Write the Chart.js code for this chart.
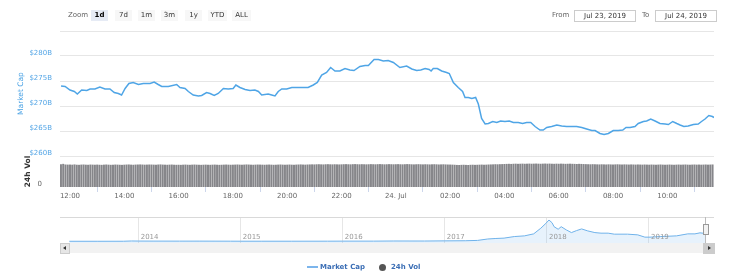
<!DOCTYPE html>
<html><head><meta charset="utf-8">
<script src="https://cdn.jsdelivr.net/npm/chart.js@4/dist/chart.umd.min.js"></script>
<style>
body{margin:0;background:#fff;width:736px;height:274px;overflow:hidden;position:relative;font-family:"DejaVu Sans",sans-serif;font-size:7px;}
canvas{position:absolute;left:0;}
#main{top:0;}
#nav{top:210px;}
.a{position:absolute;white-space:nowrap;line-height:10px;}
.btn{position:absolute;top:10px;height:11px;width:17px;background:#f7f7f7;color:#333;text-align:center;line-height:11px;}
.btn.sel{background:#e6ebf5;font-weight:bold;color:#000;}
.inp{position:absolute;top:10px;height:10px;width:60px;border:1px solid #cccccc;color:#333;text-align:center;line-height:10px;}
</style></head>
<body>
<canvas id="main" width="736" height="205"></canvas>
<canvas id="nav" width="736" height="45"></canvas>

<div class="a" style="left:68px;top:10px;color:#666;">Zoom</div>
<div class="btn sel" style="left:91px;">1d</div>
<div class="btn" style="left:115px;">7d</div>
<div class="btn" style="left:138px;">1m</div>
<div class="btn" style="left:161px;">3m</div>
<div class="btn" style="left:185px;">1y</div>
<div class="btn" style="left:208px;width:19px;">YTD</div>
<div class="btn" style="left:232px;width:19px;">ALL</div>
<div class="a" style="left:552px;top:10px;color:#666;">From</div>
<div class="inp" style="left:574px;">Jul 23, 2019</div>
<div class="a" style="left:642px;top:10px;color:#666;">To</div>
<div class="inp" style="left:655px;">Jul 24, 2019</div>

<!-- navigator decorations -->
<div class="a" style="left:60px;top:217px;width:654px;height:1px;background:#d9d9d9;"></div>
<div class="a" style="left:705px;top:217px;width:1px;height:26px;background:#bbbbbb;"></div>
<div class="a" style="left:703px;top:224px;width:4px;height:9px;background:#f2f2f2;border:1px solid #999;"></div>
<div class="a" style="left:60px;top:243px;width:654px;height:10px;background:#f2f2f2;"></div>
<div class="a" style="left:60px;top:243px;width:8px;height:9px;background:#e6e6e6;border:1px solid #cccccc;"></div>
<div class="a" style="left:63px;top:246px;width:0;height:0;border-top:2px solid transparent;border-bottom:2px solid transparent;border-right:3px solid #333;"></div>
<div class="a" style="left:703px;top:243px;width:10px;height:9px;background:#cccccc;border:1px solid #cccccc;"></div>
<div class="a" style="left:708px;top:246px;width:0;height:0;border-top:2px solid transparent;border-bottom:2px solid transparent;border-left:3px solid #333;"></div>

<!-- legend -->
<div class="a" style="left:307px;top:266px;width:11px;height:2px;background:#7cb5ec;"></div>
<div class="a" style="left:320px;top:262px;color:#3b6eb5;font-weight:bold;">Market Cap</div>
<div class="a" style="left:379px;top:264px;width:7px;height:7px;border-radius:50%;background:#555;"></div>
<div class="a" style="left:391px;top:262px;color:#3b6eb5;font-weight:bold;">24h Vol</div>

<script>
// ---- Market cap (hours since 23 Jul 2019 00:00, billions USD)
const mcHours = [11.67,11.82,12.00,12.16,12.27,12.43,12.62,12.74,12.92,13.10,13.29,13.47,13.63,13.78,13.90,14.03,14.17,14.33,14.52,14.70,14.95,15.10,15.25,15.38,15.62,15.93,16.05,16.24,16.36,16.54,16.73,16.85,17.03,17.16,17.31,17.46,17.65,17.83,18.01,18.11,18.26,18.45,18.63,18.81,18.94,19.06,19.30,19.43,19.55,19.67,19.80,19.98,20.17,20.41,20.59,20.77,20.96,21.11,21.27,21.45,21.60,21.76,21.94,22.13,22.31,22.46,22.68,22.87,22.99,23.20,23.36,23.54,23.72,23.91,24.15,24.40,24.59,24.77,24.92,25.08,25.23,25.30,25.38,25.53,25.69,25.87,25.97,26.12,26.30,26.46,26.55,26.67,26.80,26.94,27.04,27.16,27.29,27.41,27.57,27.72,27.86,28.02,28.18,28.33,28.51,28.67,28.82,28.97,29.13,29.31,29.43,29.56,29.74,29.93,30.11,30.29,30.48,30.66,30.85,31.03,31.22,31.34,31.52,31.67,31.83,32.01,32.19,32.36,32.48,32.63,32.81,32.93,33.12,33.24,33.39,33.55,33.73,33.92,34.04,34.20,34.35,34.47,34.61,34.77,34.96,35.14,35.26,35.39,35.53,35.66,35.72];
const mcValues = [274.0,273.9,273.2,272.9,272.4,273.2,273.1,273.4,273.4,273.8,273.4,273.4,272.7,272.5,272.2,273.5,274.5,274.7,274.3,274.5,274.5,274.8,274.3,273.9,273.9,274.3,273.7,273.5,272.9,272.2,272.0,272.1,272.7,272.5,272.1,272.5,273.5,273.4,273.5,274.2,273.7,273.3,273.1,273.2,272.9,272.2,272.4,272.2,272.0,272.9,273.4,273.4,273.7,273.7,273.7,273.7,274.2,274.7,276.2,276.7,277.7,277.0,277.0,277.5,277.2,277.1,277.9,278.1,278.1,279.3,279.3,279.0,279.1,278.7,277.7,278.0,277.4,277.1,277.2,277.5,277.3,277.0,277.5,277.5,277.0,276.7,276.5,274.7,273.7,272.9,271.7,271.7,271.5,271.7,270.4,267.5,266.4,266.5,266.9,266.7,267.0,266.9,267.0,266.7,266.7,266.5,266.7,266.7,265.9,265.2,265.2,265.7,265.9,266.2,266.0,265.9,265.9,265.9,265.7,265.4,265.1,265.1,264.5,264.3,264.5,265.1,265.1,265.2,265.7,265.7,265.9,266.5,266.9,267.0,267.4,267.0,266.5,266.4,266.3,266.9,266.5,266.2,265.9,266.0,266.3,266.4,266.9,267.4,268.1,267.9,267.7];

// ---- 24h volume, one bar every 5 minutes from 11:40 (billions USD)
const volStartHour = 11 + 40/60;
const volStepHour = 5/60;
const volValues = [
54.5,55.2,53.6,53.4,
53.5,53.2,53.8,53.1,52.9,53.4,53.6,53.2,53.0,53.5,53.3,53.1,
53.4,53.0,52.8,53.3,53.6,53.2,52.9,53.1,53.5,53.3,53.0,52.8,
53.2,53.5,53.7,53.3,53.0,53.4,53.6,53.8,53.5,53.2,53.4,53.6,
53.5,53.3,53.1,53.6,53.8,53.4,53.2,53.0,53.3,53.5,53.1,52.9,
53.0,52.8,53.2,53.4,53.1,52.9,53.3,53.5,53.2,53.0,52.8,53.1,
53.3,53.0,52.9,53.2,53.4,53.1,52.8,53.0,53.3,53.5,53.2,53.0,
53.2,53.4,53.6,53.3,53.1,53.4,53.7,53.5,53.2,53.0,53.3,53.5,
53.4,53.2,53.0,53.3,53.5,53.2,52.9,53.1,53.4,53.6,53.3,53.1,
53.3,53.5,53.2,53.0,53.4,53.6,53.8,53.5,53.3,53.6,53.8,54.0,
53.8,54.1,54.3,54.0,53.8,54.2,54.4,54.1,53.9,54.2,54.0,53.8,
54.0,54.3,54.5,54.2,54.0,54.4,54.6,54.3,54.1,54.4,54.2,54.0,
54.2,54.5,54.3,54.1,54.4,54.6,54.3,54.0,54.2,54.5,54.3,54.1,
54.3,54.5,54.2,54.0,54.3,54.6,54.4,54.1,53.9,54.2,54.4,54.1,
53.9,54.2,54.0,53.8,54.1,54.3,54.0,53.7,53.9,54.1,53.8,53.6,
53.5,53.3,53.0,52.6,52.4,52.8,53.0,52.7,52.5,52.9,53.1,52.8,
53.0,53.2,53.4,53.1,53.3,53.6,53.8,54.0,54.3,54.1,54.4,54.6,
54.8,55.1,55.3,55.0,55.4,55.6,55.3,55.5,55.7,55.4,55.6,55.8,
55.5,55.7,55.9,55.6,55.4,55.7,55.9,55.6,55.8,55.5,55.3,55.6,
55.4,55.7,55.5,55.2,55.4,55.6,55.3,55.1,54.9,55.2,55.0,54.7,
54.5,54.3,54.1,54.4,54.2,54.0,53.8,54.1,53.9,53.7,54.0,53.8,
53.6,53.9,54.1,53.8,53.6,53.9,53.7,53.5,53.8,53.6,53.4,53.7,
53.5,53.3,53.6,53.4,53.2,53.5,53.3,53.1,53.4,53.6,53.3,53.1,
53.3,53.5,53.2,53.0,53.3,53.5,53.2,53.4,53.6,53.3,53.1,53.4,
53.6,53.3,53.5,53.2,53.4,53.6,53.3,53.5,53.7];

// ---- Axis ticks
const xTickValues = [12,14,16,18,20,22,24,26,28,30,32,34];
const xTickLabels = ['12:00','14:00','16:00','18:00','20:00','22:00','24. Jul','02:00','04:00','06:00','08:00','10:00'];
const priceTickValues = [260,265,270,275,280,285];
const priceTickLabels = ['$260B','$265B','$270B','$275B','$280B',''];
const volTickValues = [0];
const volTickLabels = ['0'];

// ---- Navigator: whole history (decimal year, billions USD)
const navYears = [2013.32,2013.60,2013.85,2013.93,2014.00,2014.15,2014.40,2014.60,2014.90,2015.00,2015.20,2015.50,2015.85,2016.00,2016.30,2016.50,2016.80,2017.00,2017.20,2017.32,2017.42,2017.50,2017.58,2017.68,2017.78,2017.87,2017.94,2017.99,2018.02,2018.05,2018.07,2018.11,2018.14,2018.19,2018.24,2018.29,2018.34,2018.40,2018.47,2018.53,2018.60,2018.66,2018.79,2018.89,2018.96,2019.01,2019.11,2019.27,2019.38,2019.45,2019.50,2019.56];
const navValues = [1.5,1.2,2.5,13,10,8,7,7.5,5,4,3.5,3.8,5,6.5,7,12,11,17,22,35,90,110,124,185,212,290,510,700,830,725,570,470,570,444,340,417,482,405,340,317,317,278,278,251,162,162,185,212,290,290,330,300];
const navTickValues = [2014,2015,2016,2017,2018,2019];
const navTickLabels = ['2014','2015','2016','2017','2018','2019'];

const F = {family:'DejaVu Sans', size:7};

new Chart(document.getElementById('main'), {
  data: {
    datasets: [
      {type:'line', label:'Market Cap', data: mcHours.map((h,i)=>({x:h, y:mcValues[i]})),
       xAxisID:'x', yAxisID:'yPrice', borderColor:'#4fa5e6', borderWidth:1.5, pointRadius:0, tension:0, fill:false},
      {type:'bar', label:'24h Vol', data: volValues.map((v,i)=>({x: volStartHour + i*volStepHour, y:v})),
       xAxisID:'x', yAxisID:'yVol', backgroundColor:'#86868a', barThickness:1.35, borderWidth:0}
    ]
  },
  options: {
    responsive:false, animation:false,
    layout:{padding:{top:31, right:22, left:0, bottom:0}},
    plugins:{legend:{display:false}, tooltip:{enabled:false}},
    scales:{
      x:{type:'linear', position:'bottom', min:11.632, max:35.72, offset:false,
         afterBuildTicks:s=>{s.ticks = xTickValues.map(v=>({value:v}));},
         ticks:{callback:(v,i)=>xTickLabels[i], font:F, color:'#666', padding:0, maxRotation:0, autoSkip:false},
         grid:{drawOnChartArea:false, drawTicks:true, tickLength:5, color:'#ccd6eb'},
         border:{display:false},
         afterFit:s=>{s.height=18;}},
      yVol:{type:'linear', position:'left', stack:'p', stackWeight:31, min:0, max:75,
         afterBuildTicks:s=>{s.ticks = volTickValues.map(v=>({value:v}));},
         ticks:{callback:(v,i)=>volTickLabels[i], font:F, color:'#666', padding:10, labelOffset:-3},
         grid:{display:false},
         border:{display:false},
         title:{display:true, text:'24h Vol', color:'#333', font:{family:'DejaVu Sans', size:7.5, weight:'bold'}, padding:{top:24, bottom:0}},
         afterFit:s=>{s.width=60;}},
      yPrice:{type:'linear', position:'left', stack:'p', stackWeight:125, min:260, max:285,
         afterBuildTicks:s=>{s.ticks = priceTickValues.map(v=>({value:v}));},
         ticks:{callback:(v,i)=>priceTickLabels[i], font:F, color:'#55a6e6', padding:8, labelOffset:-3},
         grid:{color:'#e6e6e6', drawTicks:false},
         border:{display:false},
         title:{display:true, text:'Market Cap', color:'#4aa2e4', font:{family:'DejaVu Sans', size:7.5}, padding:{top:17, bottom:0}},
         afterFit:s=>{s.width=60;}}
    }
  }
});

new Chart(document.getElementById('nav'), {
  type:'line',
  data:{datasets:[{label:'Navigator', data: navYears.map((t,i)=>({x:t, y:navValues[i]})),
    borderColor:'#6fb2ea', borderWidth:1, pointRadius:0, tension:0, fill:'start', backgroundColor:'rgba(124,181,236,0.18)'}]},
  options:{
    responsive:false, animation:false,
    layout:{padding:{top:7, left:60, right:22, bottom:0}},
    plugins:{legend:{display:false}, tooltip:{enabled:false}},
    scales:{
      x:{type:'linear', min:2013.229, max:2019.637,
         afterBuildTicks:s=>{s.ticks = navTickValues.map(v=>({value:v}));},
         ticks:{callback:(v,i)=>navTickLabels[i], align:'start', labelOffset:2, mirror:true, padding:1.3, font:F, color:'#999', z:1, autoSkip:false, maxRotation:0},
         grid:{color:'#e6e6e6', drawTicks:false},
         border:{display:false},
         afterFit:s=>{s.height=12;}},
      y:{display:false, min:-66, max:947}
    }
  }
});
</script>
</body></html>
